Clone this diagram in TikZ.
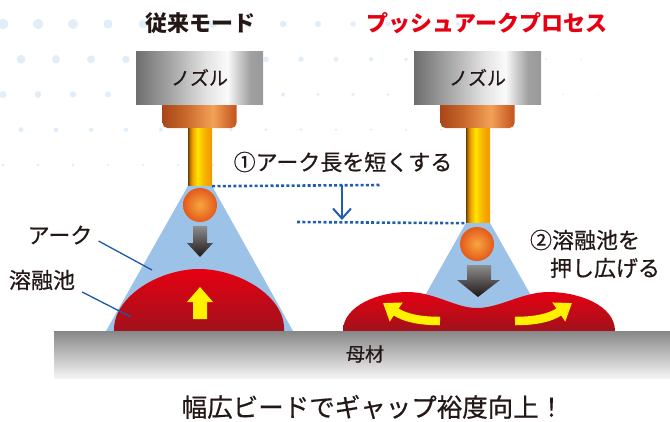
\documentclass[tikz,border=0pt]{standalone}
\usepackage{fontspec}
\setmainfont{Noto Sans CJK JP}
\newfontfamily\labelfont[FakeBold=0.6]{Noto Sans CJK JP}
\usetikzlibrary{arrows.meta}

\definecolor{dotblue}{HTML}{E1EEF9}
\definecolor{nozA}{HTML}{6E6E6E}
\definecolor{nozB}{HTML}{B4B4B4}
\definecolor{nozC}{HTML}{E0E0E0}
\definecolor{nozD}{HTML}{FBFBFB}
\definecolor{nozE}{HTML}{D0D0D0}
\definecolor{nozF}{HTML}{A0A0A0}
\definecolor{nozG}{HTML}{999999}
\definecolor{cuA}{HTML}{A9471A}
\definecolor{cuB}{HTML}{C8662B}
\definecolor{cuC}{HTML}{F3A257}
\definecolor{cuD}{HTML}{D9783A}
\definecolor{cuE}{HTML}{C4531D}
\definecolor{auA}{HTML}{6B4000}
\definecolor{auB}{HTML}{B87500}
\definecolor{auC}{HTML}{EDA200}
\definecolor{auD}{HTML}{FFE600}
\definecolor{auE}{HTML}{F9C000}
\definecolor{auF}{HTML}{F5A500}
\definecolor{auG}{HTML}{F29A00}
\definecolor{dropIn}{HTML}{F8A640}
\definecolor{dropOut}{HTML}{E35A1B}
\definecolor{arcblue}{HTML}{9CC3E7}
\definecolor{poolTop}{HTML}{E60012}
\definecolor{poolBot}{HTML}{A0121C}
\definecolor{pressTop}{HTML}{8E8E8E}
\definecolor{pressBot}{HTML}{1E1616}
\definecolor{flowyellow}{HTML}{FFF100}
\definecolor{baseTop}{HTML}{878787}
\definecolor{baseBot}{HTML}{F4F4F4}
\definecolor{leaderblue}{HTML}{1D5AA6}
\definecolor{dimblue}{HTML}{1F5EAD}
\definecolor{titlered}{HTML}{E60012}
\definecolor{inkgray}{HTML}{231815}

% metal shadings, left to right (25bp..75bp = object width)
\pgfdeclarehorizontalshading{nozzlesteel}{100bp}{color(0bp)=(nozA); color(25bp)=(nozA);
  color(42bp)=(nozB); color(52bp)=(nozC); color(61bp)=(nozD); color(65bp)=(nozE);
  color(70bp)=(nozF); color(75bp)=(nozG); color(100bp)=(nozG)}
\pgfdeclarehorizontalshading{coppertip}{100bp}{color(0bp)=(cuA); color(25bp)=(cuA);
  color(40bp)=(cuB); color(59bp)=(cuC); color(67bp)=(cuD); color(75bp)=(cuE); color(100bp)=(cuE)}
\pgfdeclarehorizontalshading{wiregold}{100bp}{color(0bp)=(auA); color(25bp)=(auA);
  color(29bp)=(auB); color(34bp)=(auC); color(45bp)=(auD); color(55bp)=(auE);
  color(65bp)=(auF); color(75bp)=(auG); color(100bp)=(auG)}

\begin{document}
\begin{tikzpicture}[
    x=1pt, y=-1pt,
    >=Stealth,
    mode title/.style={font=\fontsize{22}{26}\selectfont\bfseries, inner sep=0pt, text=inkgray},
    lbl/.style={font=\labelfont\fontsize{22}{26}\selectfont, inner sep=0pt, text=inkgray},
    small lbl/.style={font=\labelfont\fontsize{19}{22}\selectfont, inner sep=0pt, text=inkgray},
    nozzle/.style={shade, shading=nozzlesteel, minimum width=127pt, minimum height=53pt,
        inner sep=0pt, font=\labelfont\fontsize{19}{22}\selectfont, text=inkgray},
    contact tip/.style={shade, shading=coppertip, rounded corners=5pt,
        minimum width=74pt, minimum height=32pt, inner sep=0pt},
    wire/.style={shade, shading=wiregold, minimum width=24pt, inner sep=0pt},
    drop/.style={circle, shade, inner color=dropIn, outer color=dropOut,
        minimum size=34pt, inner sep=0pt},
    arc cone/.style={fill=arcblue},
    pool/.style={top color=poolTop, bottom color=poolBot},
    press/.style={top color=pressTop, bottom color=pressBot},
    flow/.style={fill=flowyellow},
    spread/.style={draw=flowyellow, line width=8.5pt, -{Triangle[length=16pt, width=22pt]}},
    leader/.style={draw=leaderblue, line width=1.3pt},
    level line/.style={draw=dimblue, line width=2.6pt, dash pattern=on 3pt off 2.3pt},
    dim arrow/.style={draw=dimblue, line width=2pt, -{Straight Barb[length=10pt, width=18pt]}},
]
\useasboundingbox (0,0) rectangle (670,421);

% Background dots
\foreach \row/\rad/\off in {0/5.5/3, 1/4.5/21, 2/3.5/3, 3/2.6/21, 4/1.7/3} {
  \foreach \k in {0,...,18} {
    \pgfmathsetmacro{\dx}{\off+35*\k}
    \pgfmathsetmacro{\dr}{\rad*(1-\dx/720)}
    \fill[dotblue] (\dx, 24+35.25*\row) circle (\dr pt);
  }
}

% Titles
\node[mode title] (ttlL) at (200,23) {従来モード};
\node[mode title, text=titlered] (ttlR) at (487,23) {プッシュアークプロセス};

% Torch, conventional mode
\node[contact tip] (tipL) at (199.5,112) {};
\node[nozzle] (nozL) at (199.5,77.5) {ノズル};
\node[wire, minimum height=58pt] (wireL) at (200,157) {};

% Torch, push arc
\node[contact tip] (tipR) at (477.5,112) {};
\node[nozzle] (nozR) at (477.5,77.5) {ノズル};
\node[wire, minimum height=95pt] (wireR) at (478,175.5) {};

% Arcs
\fill[arc cone] (wireL.south west) -- (wireL.south east) -- (293,331) -- (106,331) -- cycle;
\fill[arc cone] (wireR.south west) -- (wireR.south east) -- (551,331) -- (405,331) -- cycle;

% Weld pools
\shade[pool] (114,331) .. controls (113,296) and (160,269) .. (199,269)
    .. controls (238,269) and (286,296) .. (284,331) -- cycle;
\shade[pool] (343,331) .. controls (343,305) and (380,292) .. (407,292)
    .. controls (435,292) and (455,308) .. (477,308)
    .. controls (500,308) and (522,292) .. (549,292)
    .. controls (578,292) and (615,305) .. (615,331) -- cycle;

% Arc pressure and pool flow
\shade[press] (193,226) -- (207,226) -- (207,243) -- (213,243) -- (200,257)
    -- (187,243) -- (193,243) -- cycle;
\shade[press] (467,265) -- (491,265) -- (491,280) -- (500,280) -- (478,297)
    -- (457,280) -- (467,280) -- cycle;
\fill[flow] (193,319) -- (207,319) -- (207,302) -- (213,302) -- (200,287)
    -- (187,302) -- (193,302) -- cycle;
\draw[spread] (440,321) .. controls (420,321) and (405,318) .. (383,303);
\draw[spread] (515,321) .. controls (535,321) and (550,318) .. (572,303);

% Droplets
\node[drop] (ballL) at (200,205) {};
\node[drop] (ballR) at (477,244) {};

% Base metal
\shade[top color=baseTop, bottom color=baseBot] (54,331) rectangle (670,378);
\node[small lbl] (lblBase) at (365,354) {母材};

% Arc length shortening
\coordinate (lvlTop) at (380,185);
\coordinate (lvlBot) at (297,222);
\coordinate (dimA) at (342,185);
\coordinate (dimB) at (342,220);
\draw[level line] (wireL.south east) -- (lvlTop);
\draw[level line] (lvlBot) -- (wireR.south west);
\draw[dim arrow] (dimA) -- (dimB);
\node[lbl] (lblShort) at (343,162) {①アーク長を短くする};

% Labels
\node[lbl] (lblArc) at (60,235) {アーク};
\node[lbl] (lblPool) at (42,280) {溶融池};
\coordinate (arcPt) at (152,270);
\coordinate (poolPt) at (131,317);
\draw[leader] ([xshift=6pt,yshift=-6pt]lblArc.east) -- (arcPt);
\draw[leader] ([xshift=7pt,yshift=-12pt]lblPool.east) -- (poolPt);
\node[lbl] (lblPush1) at (585,240) {②溶融池を};
\node[lbl] (lblPush2) at (605,268) {押し広げる};

% Result
\node[lbl, font=\labelfont\fontsize{25.5}{30}\selectfont] (lblResult) at (373,407) {幅広ビードでギャップ裕度向上！};

\end{tikzpicture}
\end{document}
